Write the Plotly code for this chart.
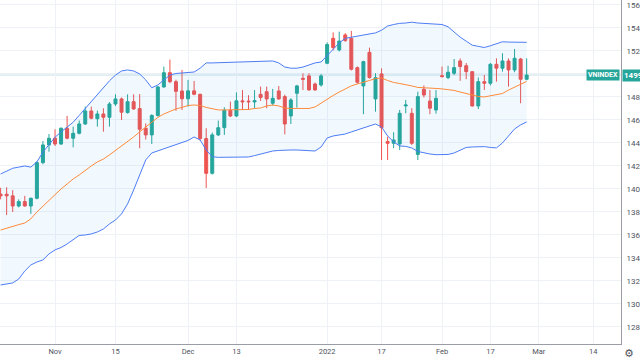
import pandas as pd
import plotly.graph_objects as go

# ---- data ----
holidays = ["2022-01-03", "2022-01-31", "2022-02-01", "2022-02-02", "2022-02-03", "2022-02-04"]
dates = [d.strftime("%Y-%m-%d") for d in
         pd.bdate_range("2021-10-19", "2022-02-25", freq="C", holidays=holidays)]
# trading-day slots shown on the axis, including the empty future part
axis_days = [d.strftime("%Y-%m-%d") for d in
             pd.bdate_range("2021-10-19", "2022-03-18", freq="C", holidays=holidays)]

open_ = [1395.5, 1395.4, 1394.0, 1385.2, 1389.0, 1385.2, 1391.9, 1422.9, 1438.3,
         1444.1, 1439.1, 1452.8, 1444.1, 1448.4, 1456.5, 1467.8, 1461.1, 1465.2, 1462.3,
         1473.9, 1478.3, 1466.4, 1475.9, 1469.9, 1452.8, 1447.0, 1463.9, 1488.7, 1501.1,
         1493.3, 1485.2, 1478.4, 1485.3, 1482.3, 1443.8, 1413.6, 1447.0, 1453.3, 1468.4,
         1463.5, 1476.6, 1476.4, 1475.7, 1482.3, 1484.6, 1474.5, 1485.2, 1480.3, 1463.5,
         1483.2, 1496.2, 1498.3, 1491.3, 1490.4, 1509.3, 1531.0, 1520.9, 1533.9, 1531.0,
         1505.5, 1489.6, 1518.8, 1478.3, 1500.0, 1441.2, 1439.7, 1439.1, 1472.2, 1465.8,
         1430.0, 1486.7, 1476.5, 1468.7, 1498.5, 1496.8, 1500.6, 1511.3, 1507.2, 1502.0,
         1472.2, 1493.3, 1491.9, 1508.4, 1505.0, 1511.3, 1503.5, 1513.0, 1495.4]
high = [1401.0, 1401.5, 1399.0, 1391.0, 1394.0, 1392.5, 1424.0, 1441.7, 1447.8,
        1451.9, 1453.5, 1463.5, 1454.2, 1459.5, 1471.6, 1471.6, 1468.1, 1470.2, 1475.5,
        1482.3, 1479.5, 1482.3, 1482.3, 1482.5, 1457.0, 1465.0, 1489.5, 1506.4, 1512.5,
        1495.0, 1503.5, 1494.8, 1493.9, 1482.8, 1452.8, 1449.0, 1459.5, 1471.0, 1476.0,
        1484.0, 1486.0, 1481.5, 1486.0, 1489.0, 1489.0, 1487.0, 1489.5, 1482.0, 1479.0,
        1490.5, 1500.6, 1500.6, 1492.5, 1500.0, 1527.5, 1536.2, 1536.8, 1535.5, 1537.4,
        1506.5, 1511.5, 1522.9, 1500.6, 1504.9, 1445.5, 1449.3, 1468.7, 1477.4, 1470.2,
        1484.6, 1490.0, 1486.0, 1486.0, 1506.4, 1507.0, 1513.0, 1513.5, 1509.5, 1502.0,
        1497.0, 1499.1, 1509.5, 1513.6, 1518.0, 1513.5, 1521.7, 1514.0, 1513.6]
low = [1391.0, 1377.4, 1380.0, 1384.0, 1384.6, 1378.3, 1391.0, 1421.5, 1432.4,
       1437.4, 1438.2, 1443.2, 1436.2, 1447.5, 1455.6, 1460.6, 1454.2, 1449.8, 1454.2,
       1472.2, 1460.0, 1465.5, 1468.7, 1435.4, 1443.0, 1439.1, 1463.0, 1488.0, 1491.9,
       1468.0, 1468.7, 1471.6, 1481.5, 1442.0, 1400.8, 1412.5, 1446.0, 1447.0, 1462.5,
       1462.5, 1468.7, 1468.7, 1470.0, 1476.5, 1470.2, 1472.5, 1477.5, 1447.5, 1456.5,
       1470.7, 1486.0, 1485.5, 1485.5, 1489.0, 1508.5, 1520.5, 1519.5, 1528.0, 1503.0,
       1491.5, 1465.0, 1496.0, 1467.2, 1425.2, 1425.2, 1435.4, 1433.9, 1465.8, 1438.3,
       1425.2, 1479.5, 1465.0, 1465.5, 1497.0, 1495.5, 1499.0, 1494.0, 1495.5, 1471.5,
       1469.5, 1486.1, 1490.0, 1493.3, 1502.0, 1489.0, 1501.5, 1474.5, 1494.5]
close = [1394.0, 1394.0, 1385.2, 1389.0, 1385.2, 1391.9, 1422.9, 1438.3, 1444.1,
         1439.1, 1452.8, 1444.1, 1448.4, 1456.5, 1467.8, 1461.5, 1465.2, 1462.3, 1473.9,
         1478.3, 1466.7, 1475.9, 1469.6, 1451.9, 1447.0, 1463.9, 1488.7, 1501.1, 1493.3,
         1484.9, 1478.4, 1485.3, 1482.3, 1443.8, 1413.6, 1447.0, 1453.3, 1468.4, 1463.5,
         1476.6, 1475.8, 1475.8, 1476.8, 1479.6, 1478.3, 1478.8, 1478.3, 1456.5, 1477.4,
         1489.6, 1495.4, 1486.1, 1486.1, 1498.3, 1525.6, 1522.9, 1528.6, 1529.0, 1504.1,
         1492.8, 1510.7, 1496.8, 1496.8, 1453.3, 1439.7, 1442.6, 1465.8, 1473.0, 1439.7,
         1480.3, 1481.7, 1470.2, 1478.8, 1497.7, 1501.5, 1505.5, 1506.4, 1502.0, 1472.2,
         1493.3, 1491.9, 1508.4, 1505.0, 1511.3, 1503.5, 1513.6, 1495.4, 1499.05]

bb_upper = [1413.0, 1415.5, 1418.0, 1419.0, 1420.0, 1419.0, 1423.5, 1432.0, 1439.0,
            1445.0, 1449.6, 1454.0, 1458.0, 1464.0, 1470.0, 1476.5, 1482.0, 1488.0, 1494.0,
            1499.0, 1502.6, 1503.5, 1502.6, 1500.0, 1494.8, 1488.0, 1490.4, 1494.8, 1499.0,
            1500.4, 1501.0, 1501.0, 1501.7, 1505.0, 1509.6, 1509.6, 1509.8, 1510.0, 1510.0,
            1510.2, 1510.3, 1510.4, 1510.5, 1510.6, 1510.8, 1511.3, 1509.6, 1506.0, 1505.0,
            1505.0, 1506.0, 1508.0, 1509.6, 1510.4, 1515.7, 1521.0, 1527.0, 1531.0, 1532.0,
            1533.0, 1533.5, 1534.8, 1535.7, 1538.0, 1541.7, 1543.0, 1544.0, 1544.3, 1545.0,
            1544.3, 1544.0, 1543.7, 1543.5, 1543.0, 1541.0, 1536.5, 1532.0, 1528.5, 1525.0,
            1524.0, 1523.0, 1524.5, 1526.0, 1528.0, 1527.7, 1527.5, 1527.5, 1527.5]
bb_basis = [1364.3, 1366.0, 1367.8, 1369.0, 1370.4, 1374.0, 1380.0, 1385.2, 1390.4,
            1395.7, 1400.0, 1404.3, 1408.7, 1412.2, 1416.5, 1420.0, 1423.5, 1426.0, 1429.6,
            1433.5, 1437.4, 1440.9, 1445.2, 1449.6, 1454.0, 1458.3, 1462.2, 1465.2, 1467.4,
            1469.6, 1470.9, 1472.6, 1473.0, 1472.6, 1470.9, 1469.6, 1468.7, 1468.7, 1468.7,
            1468.7, 1468.7, 1469.1, 1470.0, 1470.4, 1472.2, 1473.0, 1472.2, 1470.4, 1470.0,
            1470.0, 1469.6, 1470.0, 1471.3, 1474.8, 1478.3, 1481.3, 1484.3, 1487.0, 1489.6,
            1491.3, 1492.6, 1494.3, 1496.0, 1496.5, 1494.3, 1492.6, 1491.7, 1490.9, 1489.6,
            1488.3, 1487.8, 1487.6, 1487.4, 1487.0, 1486.5, 1485.7, 1484.3, 1483.0, 1481.7,
            1480.4, 1480.0, 1480.9, 1481.7, 1483.0, 1486.0, 1488.7, 1491.3, 1493.5]
bb_lower = [1316.5, 1317.4, 1318.3, 1321.7, 1328.7, 1333.9, 1336.5, 1338.3, 1343.5,
            1347.0, 1349.1, 1352.2, 1355.7, 1359.6, 1360.0, 1360.9, 1362.6, 1365.2, 1369.6,
            1373.0, 1378.3, 1387.0, 1399.1, 1412.2, 1425.2, 1431.3, 1433.0, 1434.8, 1436.5,
            1438.3, 1440.0, 1442.2, 1445.2, 1442.6, 1433.9, 1428.0, 1427.5, 1427.5, 1427.5,
            1427.5, 1427.6, 1427.8, 1429.0, 1430.4, 1432.2, 1433.0, 1433.5, 1433.9, 1433.9,
            1433.9, 1433.5, 1433.0, 1433.0, 1436.5, 1444.3, 1446.1, 1447.0, 1447.8, 1449.6,
            1451.3, 1452.6, 1454.3, 1456.5, 1453.9, 1446.1, 1440.9, 1437.4, 1437.0, 1435.7,
            1432.6, 1431.3, 1430.4, 1429.8, 1429.6, 1430.0, 1431.3, 1433.9, 1436.1, 1436.5,
            1436.8, 1436.8, 1436.1, 1435.7, 1440.0, 1446.1, 1452.2, 1455.7, 1458.3]

tick_dates = ["2021-11-01", "2021-11-15", "2021-12-01", "2021-12-13", "2022-01-04",
              "2022-01-17", "2022-02-07", "2022-02-17", "2022-03-01", "2022-03-14"]
tick_labels = ["Nov", "15", "Dec", "13", "2022", "17", "Feb", "17", "Mar", "14"]
price_ticks = list(range(1280, 1561, 20))
price_labels = ["" if v == 1500 else str(v) for v in price_ticks]  # 1500 sits under the price tag
symbol = "VNINDEX"
last_price = close[-1]

UP, DOWN = "#26a69a", "#ef5350"
FONT = "Roboto"

fig = go.Figure()
fig.add_trace(go.Scatter(x=dates, y=bb_upper, mode="lines",
                         line=dict(color="#4d7cf5", width=1), hoverinfo="skip"))
fig.add_trace(go.Scatter(x=dates, y=bb_lower, mode="lines", fill="tonexty",
                         fillcolor="rgba(33,150,243,0.06)",
                         line=dict(color="#4d7cf5", width=1), hoverinfo="skip"))
fig.add_trace(go.Scatter(x=dates, y=bb_basis, mode="lines",
                         line=dict(color="#ff8a3a", width=1), hoverinfo="skip"))
fig.add_trace(go.Candlestick(
    x=dates, open=open_, high=high, low=low, close=close,
    increasing=dict(line=dict(color=UP, width=1), fillcolor=UP),
    decreasing=dict(line=dict(color=DOWN, width=1), fillcolor=DOWN),
))

fig.add_shape(type="line", xref="paper", x0=0, x1=1, yref="y", y0=last_price, y1=last_price,
              line=dict(color="#c8e0e6", width=1), layer="below")

fig.add_annotation(xref="paper", x=1, xanchor="right", xshift=-1, yref="y", y=last_price,
                   text="<b>%s</b>" % symbol, showarrow=False, bgcolor=UP,
                   font=dict(color="white", size=7, family=FONT), borderpad=1)
fig.add_annotation(xref="paper", x=1, xanchor="left", xshift=1, yref="y", y=last_price,
                   text="<b>%.2f</b>" % last_price, showarrow=False, bgcolor=UP,
                   font=dict(color="white", size=8, family=FONT), borderpad=1)
# settings gear in the axes corner (cut by the window edge, as in the reference)
fig.add_annotation(xref="paper", x=1, xanchor="left", xshift=1, yref="paper", y=0,
                   yanchor="top", yshift=-1, text="⚙", showarrow=False,
                   font=dict(color="#50535e", size=11, family="DejaVu Sans"))

fig.update_layout(
    width=640, height=360, showlegend=False,
    margin=dict(l=0, r=19, t=0, b=16, autoexpand=False),
    paper_bgcolor="white", plot_bgcolor="white",
    font=dict(family=FONT, size=7.5, color="#50535e"),
    xaxis=dict(
        type="category", categoryorder="array", categoryarray=axis_days,
        rangeslider=dict(visible=False),
        range=[-0.1, 102.6],
        tickmode="array", tickvals=tick_dates, ticktext=tick_labels,
        showgrid=True, gridcolor="#eef2f7", gridwidth=1,
        showline=True, linecolor="#9a9da6", linewidth=1,
        ticks="", zeroline=False, fixedrange=True, automargin=False,
    ),
    yaxis=dict(
        side="right", range=[1265.2, 1564.3],
        tickmode="array", tickvals=price_ticks, ticktext=price_labels,
        tickfont=dict(size=8), ticklabelstandoff=3,
        showgrid=True, gridcolor="#eef2f7", gridwidth=1,
        showline=True, linecolor="#9a9da6", linewidth=1,
        ticks="", zeroline=False, automargin=False,
    ),
)

fig.write_html("out.html", config={"displayModeBar": False},
               post_script="document.body.style.margin='0';")
